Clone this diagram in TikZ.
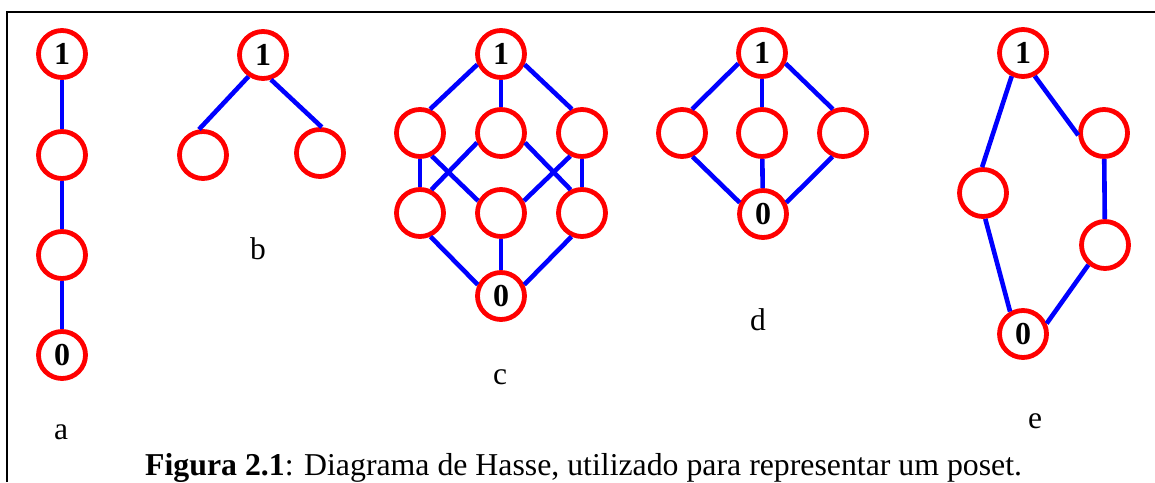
\documentclass[tikz,border=0pt]{standalone}
\usepackage{fontspec}
\setmainfont{Liberation Serif}
\begin{document}
\begin{tikzpicture}[x=1pt,y=-1pt,
  elem/.style={circle,draw=red,line width=4.8pt,minimum size=47pt,inner sep=0pt,
    font=\fontsize{32}{32}\selectfont\bfseries},
  link/.style={draw=blue,line width=4.6pt},
  tag/.style={anchor=base,font=\fontsize{31.5}{31.5}\selectfont}]
\useasboundingbox (0,0) rectangle (1155,482);
% frame
\draw[line width=2.4pt] (7,482) -- (7,12) -- (1155,12);

% (a) chain
\node[elem] (a1) at (62,54) {1};
\node[elem] (a2) at (62,155) {};
\node[elem] (a3) at (62,255) {};
\node[elem] (a0) at (62,355) {0};
\draw[link] (a1) -- (a2);
\draw[link] (a2) -- (a3);
\draw[link] (a3) -- (a0);
\node[tag] (la) at (61,439) {a};

% (b) two atoms under a top
\node[elem] (b1) at (263,55) {1};
\node[elem] (bl) at (203,155) {};
\node[elem] (br) at (320,153) {};
\draw[link] (b1.236) -- (bl.99);
\draw[link] (b1.288) -- (br.86);
\node[tag] (lb) at (258,259) {b};

% (c)
\node[elem] (c1) at (501,54) {1};
\node[elem] (cul) at (420,133) {};
\node[elem] (cum) at (501,133) {};
\node[elem] (cur) at (582,133) {};
\node[elem] (cll) at (420,213) {};
\node[elem] (clm) at (501,213) {};
\node[elem] (clr) at (582,213) {};
\node[elem] (c0) at (501,296) {0};
\draw[link] (c1.204) -- (cul.67);
\draw[link] (c1) -- (cum);
\draw[link] (c1.336) -- (cur.113);
\draw[link] (cll.294) -- (c0.154);
\draw[link] (clm) -- (c0);
\draw[link] (clr.246) -- (c0.26);
\draw[link] (cul) -- (cll);
\draw[link] (cur) -- (clr);
\draw[link] (cul.297) -- (clm.152);
\draw[link] (cum.202) -- (cll.64);
\draw[link] (cum.338) -- (clr.116);
\draw[link] (cur.243) -- (clm.28);
\node[tag] (lc) at (500,384) {c};

% (d) diamond M3
\node[elem] (d1) at (762,53) {1};
\node[elem] (dl) at (682,133) {};
\node[elem] (dm) at (762,133) {};
\node[elem] (dr) at (843,133) {};
\node[elem] (d0) at (763,214) {0};
\draw[link] (d1.204) -- (dl.67);
\draw[link] (d1) -- (dm);
\draw[link] (d1.336) -- (dr.113);
\draw[link] (dl.294) -- (d0.154);
\draw[link] (dm) -- (d0);
\draw[link] (dr.246) -- (d0.26);
\node[tag] (ld) at (758,330) {d};

% (e) pentagon N5
\node[elem] (e1) at (1023,53) {1};
\node[elem] (eur) at (1104,133) {};
\node[elem] (el) at (983,193) {};
\node[elem] (elr) at (1105,245) {};
\node[elem] (e0) at (1023,334) {0};
\draw[link] (e1.244) -- (el.92);
\draw[link] (el.275) -- (e0.120);
\draw[link] (e1.297) -- (eur.185);
\draw[link] (eur) -- (elr);
\draw[link] (elr.230) -- (e0.24);
\node[tag] (le) at (1035,428) {e};

% caption
\node[anchor=base west,inner sep=0pt,font=\fontsize{31.8}{31.8}\selectfont] (cap) at (145,475)
  {\textbf{Figura 2.1}: Diagrama de Hasse, utilizado para representar um poset.};
\end{tikzpicture}
\end{document}
